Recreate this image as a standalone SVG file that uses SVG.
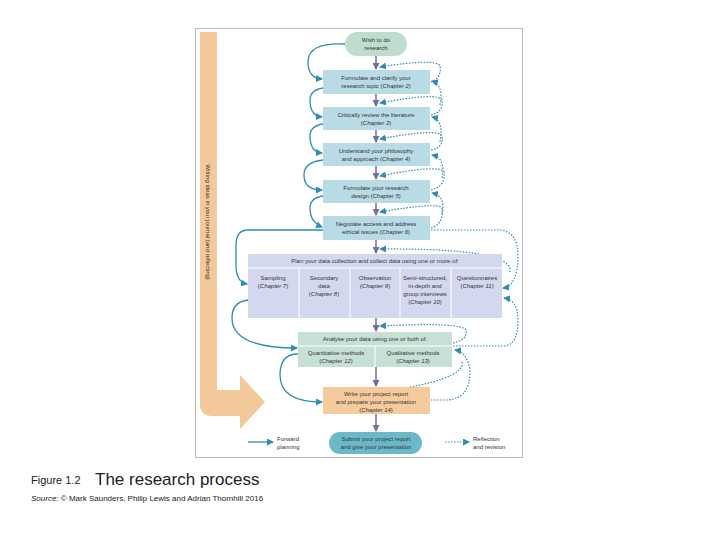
<svg xmlns="http://www.w3.org/2000/svg" width="720" height="540" viewBox="0 0 720 540">
<defs>
<marker id="ap" markerWidth="7" markerHeight="7" refX="6" refY="3.5" orient="auto" markerUnits="userSpaceOnUse"><path d="M0,0 L7,3.5 L0,7 z" fill="#7a6aa0"/></marker>
<marker id="ab" markerWidth="7" markerHeight="7" refX="6" refY="3.5" orient="auto" markerUnits="userSpaceOnUse"><path d="M0,0 L7,3.5 L0,7 z" fill="#2f8cb4"/></marker>
</defs>
<style>
text{font-family:"Liberation Sans",Arial,sans-serif;}
.t{font-size:6px;fill:#333;text-anchor:middle}
.p{stroke:#7a6aa0;stroke-width:1.5;fill:none;marker-end:url(#ap)}
.s{stroke:#2f8cb4;stroke-width:1.3;fill:none;marker-end:url(#ab)}
.d{stroke:#2f8cb4;stroke-width:1.2;stroke-dasharray:1.5 1.5;fill:none;marker-end:url(#ab)}
.bx{fill:#b9dbe5}
</style>
<rect x="0" y="0" width="720" height="540" fill="#fff"/>
<rect x="195.5" y="28.5" width="327" height="429" fill="none" stroke="#bbb"/>
<path d="M200,32 H217 V390 H240 V375 L265,402 L240,429 V416 H212 Q200,416 200,404 Z" fill="#f3c89b"/>
<text transform="translate(206,222) rotate(90)" font-size="6" fill="#333" text-anchor="middle">Writing ideas in your journal (and reflecting)</text>
<g id="connectors">
<path class="p" d="M376,56 V69"/><path class="p" d="M376,94 V106"/><path class="p" d="M376,130 V142"/><path class="p" d="M376,166 V179"/><path class="p" d="M376,203 V215"/><path class="p" d="M376,240 V253"/><path class="p" d="M376,318 V331"/><path class="p" d="M376,367 V386"/><path class="p" d="M376,414 V431"/>
<path class="s" d="M345,44 Q308,42 308,62 Q308,78 322,79"/>
<path class="s" d="M323,88 Q310,90 310,100 Q310,116 322,117"/>
<path class="s" d="M323,124 Q310,126 310,136 Q310,152 322,153"/>
<path class="s" d="M323,160 Q304,162 304,175 Q304,190 322,190"/>
<path class="s" d="M323,196 Q310,198 310,208 Q310,222 322,227"/>
<path class="s" d="M323,230 H248 Q236,230 236,245 V265 Q236,282 247,284"/>
<path class="s" d="M248,300 Q232,302 232,318 Q232,348 297,348"/>
<path class="s" d="M298,354 Q280,354 280,375 Q280,402 322,402"/>
<path class="d" d="M431,82 Q442,78 440,66 Q436,58 380,67"/>
<path class="d" d="M431,115 Q444,112 442,100 Q438,92 380,103"/>
<path class="d" d="M440,105 Q444,85 432,81"/>
<path class="d" d="M431,150 Q444,148 442,136 Q438,128 380,139"/>
<path class="d" d="M440,142 Q444,120 432,117"/>
<path class="d" d="M431,190 Q446,186 444,172 Q440,164 380,176"/>
<path class="d" d="M442,178 Q446,158 432,155"/>
<path class="d" d="M431,228 Q444,224 442,208 Q438,202 380,212"/>
<path class="d" d="M442,214 Q446,196 432,193"/>
<path class="d" d="M431,230 H500 Q518,232 518,255 Q518,286 503,288"/>
<path class="d" d="M510,272 Q515,248 380,249"/>
<path class="d" d="M453,343 Q468,340 466,330 Q462,322 380,326"/>
<path class="d" d="M453,346 H505 Q518,344 518,320 Q518,300 504,298"/>
<path class="d" d="M431,400 H448 Q470,398 470,372 Q468,352 455,350"/>
<path class="d" d="M462,362 Q466,380 380,392"/>
</g>
<g id="wish"><rect x="345" y="32" width="62" height="24" rx="12" fill="#bfdccf"/><text class="t" x="376" y="42">Wish to do</text><text class="t" x="376" y="50">research</text></g>
<g id="n1"><rect class="bx" x="323" y="70" width="107" height="24"/><text class="t" x="376" y="80">Formulate and clarify your</text><text class="t" x="376" y="88">research topic (<tspan font-style="italic">Chapter 2</tspan>)</text></g>
<g id="n2"><rect class="bx" x="323" y="107" width="107" height="23"/><text class="t" x="376" y="117">Critically review the literature</text><text class="t" x="376" y="125">(<tspan font-style="italic">Chapter 3</tspan>)</text></g>
<g id="n3"><rect class="bx" x="323" y="143" width="107" height="23"/><text class="t" x="376" y="153">Understand your philosophy</text><text class="t" x="376" y="161">and approach (<tspan font-style="italic">Chapter 4</tspan>)</text></g>
<g id="n4"><rect class="bx" x="323" y="180" width="107" height="23"/><text class="t" x="376" y="190">Formulate your research</text><text class="t" x="376" y="198">design (<tspan font-style="italic">Chapter 5</tspan>)</text></g>
<g id="n5"><rect class="bx" x="323" y="216" width="107" height="24"/><text class="t" x="376" y="226">Negotiate access and address</text><text class="t" x="376" y="234">ethical issues (<tspan font-style="italic">Chapter 6</tspan>)</text></g>
<g id="plan"><rect x="248" y="254" width="254" height="64" fill="#d3d8ee"/>
<g stroke="#fff" stroke-width="1"><line x1="248" y1="268" x2="502" y2="268"/><line x1="299" y1="268" x2="299" y2="318"/><line x1="350" y1="268" x2="350" y2="318"/><line x1="400" y1="268" x2="400" y2="318"/><line x1="451" y1="268" x2="451" y2="318"/></g>
<text class="t" x="375" y="263">Plan your data collection and collect data using one or more of:</text>
<text class="t" x="273" y="280">Sampling</text><text class="t" x="273" y="288">(<tspan font-style="italic">Chapter 7</tspan>)</text>
<text class="t" x="324" y="280">Secondary</text><text class="t" x="324" y="288">data</text><text class="t" x="324" y="296">(<tspan font-style="italic">Chapter 8</tspan>)</text>
<text class="t" x="375" y="280">Observation</text><text class="t" x="375" y="288">(<tspan font-style="italic">Chapter 9</tspan>)</text>
<text class="t" x="425" y="280">Semi-structured,</text><text class="t" x="425" y="288">in-depth and</text><text class="t" x="425" y="296">group interviews</text><text class="t" x="425" y="304">(<tspan font-style="italic">Chapter 10</tspan>)</text>
<text class="t" x="477" y="280">Questionnaires</text><text class="t" x="477" y="288">(<tspan font-style="italic">Chapter 11</tspan>)</text></g>
<g id="analyse"><rect x="298" y="332" width="154" height="35" fill="#c6e0d6"/>
<g stroke="#fff"><line x1="298" y1="346" x2="452" y2="346"/><line x1="375" y1="346" x2="375" y2="367"/></g>
<text class="t" x="375" y="341">Analyse your data using one or both of:</text>
<text class="t" x="336" y="355">Quantitative methods</text><text class="t" x="336" y="363">(<tspan font-style="italic">Chapter 12</tspan>)</text>
<text class="t" x="413" y="355">Qualitative methods</text><text class="t" x="413" y="363">(<tspan font-style="italic">Chapter 13</tspan>)</text></g>
<g id="write"><rect x="323" y="387" width="107" height="27" fill="#f5cb9e"/><text class="t" x="376" y="396">Write your project report</text><text class="t" x="376" y="404">and prepare your presentation</text><text class="t" x="376" y="412">(<tspan font-style="italic">Chapter 14</tspan>)</text></g>
<g id="submit"><rect x="329" y="432" width="93" height="22" rx="11" fill="#6bb8c8"/><text class="t" x="376" y="441">Submit your project report</text><text class="t" x="376" y="449">and give your presentation</text></g>
<g id="legend">
<path class="s" d="M248,442 H273"/><text x="277" y="441" font-size="6" fill="#333">Forward</text><text x="277" y="449" font-size="6" fill="#333">planning</text>
<path class="d" d="M445,442 H469"/><text x="473" y="441" font-size="6" fill="#333">Reflection</text><text x="473" y="449" font-size="6" fill="#333">and revision</text>
</g>
<text x="31" y="484" font-size="11" fill="#222">Figure 1.2</text>
<text x="95" y="485" font-size="17" fill="#222">The research process</text>
<text x="31" y="501" font-size="8" fill="#222"><tspan font-style="italic">Source:</tspan> © Mark Saunders, Philip Lewis and Adrian Thornhill 2016</text>
</svg>
